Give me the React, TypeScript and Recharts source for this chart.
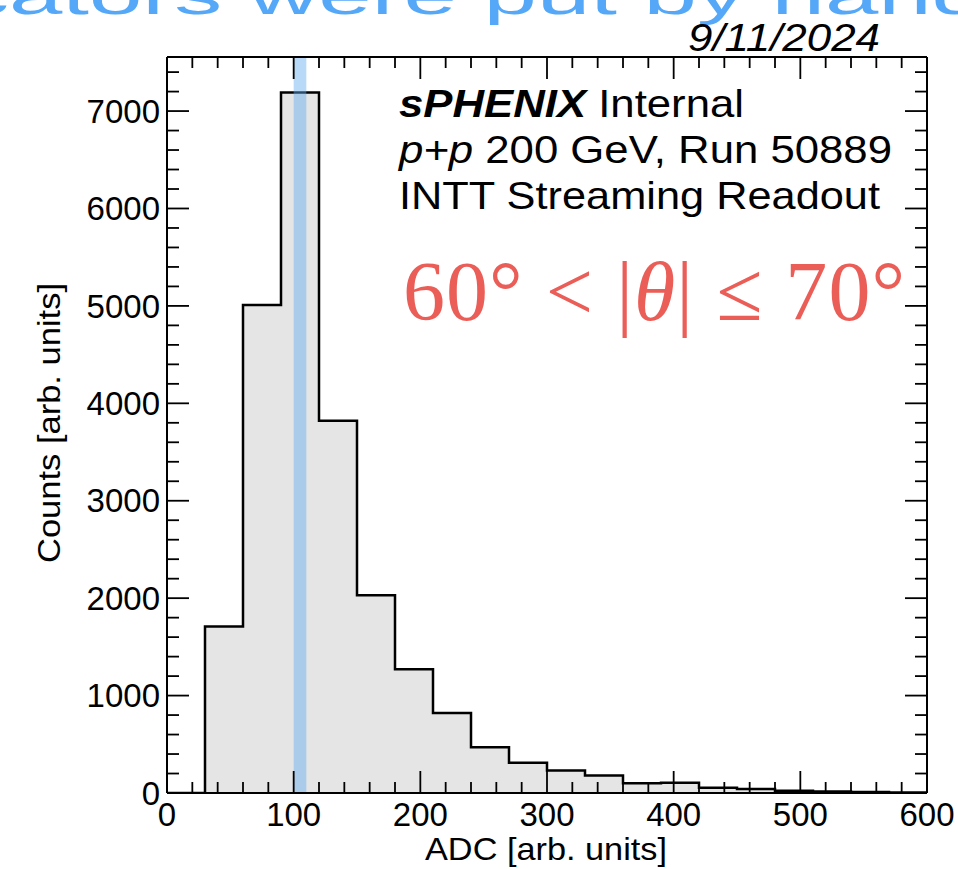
import React from "react";
import { Area, ComposedChart, Line, ReferenceArea, XAxis, YAxis } from "recharts";

// histogram: 30-ADC bins from 0 to 600
const binEdges = [0, 30, 60, 90, 120, 150, 180, 210, 240, 270, 300, 330, 360, 390, 420, 450, 480, 510, 540, 570, 600];
const binCounts = [0, 1710, 5010, 7190, 3820, 2030, 1270, 820, 470, 310, 230, 180, 100, 106, 55, 41, 24, 16, 9, 4];

const xTicks = [0, 20, 40, 60, 80, 100, 120, 140, 160, 180, 200, 220, 240, 260, 280, 300, 320, 340, 360, 380, 400, 420, 440, 460, 480, 500, 520, 540, 560, 580, 600];
const xLabels = [0, 100, 200, 300, 400, 500, 600];
const yTicks = [0, 200, 400, 600, 800, 1000, 1200, 1400, 1600, 1800, 2000, 2200, 2400, 2600, 2800, 3000, 3200, 3400, 3600, 3800, 4000, 4200, 4400, 4600, 4800, 5000, 5200, 5400, 5600, 5800, 6000, 6200, 6400, 6600, 6800, 7000, 7200, 7400];
const yLabels = [0, 1000, 2000, 3000, 4000, 5000, 6000, 7000];

const xDomain = [0, 600];
const yDomain = [0, 7555];
const band = [100, 110]; // hand-placed marker

const data = binEdges.map((edge, i) => ({ edge, count: binCounts[Math.min(i, binCounts.length - 1)] }));

const FONT = "'Liberation Sans', Arial, Helvetica, sans-serif";
const SERIF = "'Liberation Serif', 'Times New Roman', serif";
const TICK_W = 1.8;
const BOTTOM_GAP = 10;
const LEFT_GAP = 7;
const EDGE_GAP = 4;

function BottomTick(props: any) {
  const { x, y, payload } = props;
  const axisY = y - BOTTOM_GAP;
  const major = xLabels.includes(payload.value);
  return (
    <g>
      <line x1={x} x2={x} y1={axisY} y2={axisY - (major ? 22 : 11)} stroke="#000" strokeWidth={TICK_W} />
      {major ? (
        <text x={x} y={y} dy="0.71em" textAnchor="middle" fontSize={33} fontFamily={FONT} fill="#000">
          {payload.value}
        </text>
      ) : null}
    </g>
  );
}

function TopTick(props: any) {
  const { x, y, payload } = props;
  const axisY = y + EDGE_GAP;
  const major = xLabels.includes(payload.value);
  return <line x1={x} x2={x} y1={axisY} y2={axisY + (major ? 22 : 11)} stroke="#000" strokeWidth={TICK_W} />;
}

function LeftTick(props: any) {
  const { x, y, payload } = props;
  const axisX = x + LEFT_GAP;
  const major = yLabels.includes(payload.value);
  return (
    <g>
      <line x1={axisX} x2={axisX + (major ? 22 : 12)} y1={y} y2={y} stroke="#000" strokeWidth={TICK_W} />
      {major ? (
        <text x={x} y={y} dy="0.355em" textAnchor="end" fontSize={33} fontFamily={FONT} fill="#000">
          {payload.value}
        </text>
      ) : null}
    </g>
  );
}

function RightTick(props: any) {
  const { x, y, payload } = props;
  const axisX = x - EDGE_GAP;
  const major = yLabels.includes(payload.value);
  return <line x1={axisX} x2={axisX - (major ? 22 : 12)} y1={y} y2={y} stroke="#000" strokeWidth={TICK_W} />;
}

export default function App() {
  return (
    <div style={{ position: "absolute", left: 0, top: 0, width: 958, height: 869, background: "#fff", overflow: "hidden" }}>
      <ComposedChart width={958} height={869} data={data} margin={{ top: 47, right: 11, bottom: 36, left: 67 }}>
        <XAxis
          xAxisId="x"
          dataKey="edge"
          type="number"
          domain={xDomain}
          ticks={xTicks}
          interval={0}
          allowDataOverflow
          height={40}
          tickSize={0}
          tickMargin={BOTTOM_GAP}
          tick={<BottomTick />}
          axisLine={{ stroke: "#000", strokeWidth: 2 }}
        />
        <XAxis
          xAxisId="xt"
          orientation="top"
          dataKey="edge"
          type="number"
          domain={xDomain}
          ticks={xTicks}
          interval={0}
          allowDataOverflow
          height={10}
          tickSize={0}
          tickMargin={EDGE_GAP}
          tick={<TopTick />}
          axisLine={{ stroke: "#000", strokeWidth: 2 }}
        />
        <YAxis
          yAxisId="y"
          type="number"
          domain={yDomain}
          ticks={yTicks}
          interval={0}
          allowDataOverflow
          width={100}
          tickSize={0}
          tickMargin={LEFT_GAP}
          tick={<LeftTick />}
          axisLine={{ stroke: "#000", strokeWidth: 2 }}
        />
        <YAxis
          yAxisId="yr"
          orientation="right"
          type="number"
          domain={yDomain}
          ticks={yTicks}
          interval={0}
          allowDataOverflow
          width={20}
          tickSize={0}
          tickMargin={EDGE_GAP}
          tick={<RightTick />}
          axisLine={{ stroke: "#000", strokeWidth: 2 }}
        />
        <Area
          xAxisId="x"
          yAxisId="y"
          type="stepAfter"
          dataKey="count"
          stroke="#000"
          strokeWidth={2.5}
          fill="#e5e5e5"
          fillOpacity={1}
          dot={false}
          activeDot={false}
          isAnimationActive={false}
        />
        <Line
          xAxisId="xt"
          yAxisId="yr"
          dataKey="count"
          stroke="none"
          dot={false}
          activeDot={false}
          isAnimationActive={false}
        />
        <ReferenceArea
          xAxisId="x"
          yAxisId="y"
          x1={band[0]}
          x2={band[1]}
          fill="rgb(100,170,240)"
          fillOpacity={0.45}
          stroke="none"
          ifOverflow="extendDomain"
        />
      </ComposedChart>

      <svg width={958} height={869} style={{ position: "absolute", left: 0, top: 0, pointerEvents: "none" }}>
        <text x={-39} y={14} fontSize={54} fontFamily={FONT} fill="#55a8f8" textLength={1024} lengthAdjust="spacingAndGlyphs">
          cators were put by hand
        </text>
        <text x={688} y={51} fontSize={39} fontStyle="italic" fontFamily={FONT} fill="#000" textLength={192} lengthAdjust="spacingAndGlyphs">
          9/11/2024
        </text>
        <text x={399} y={117} fontSize={39} fontFamily={FONT} fill="#000" textLength={345} lengthAdjust="spacingAndGlyphs">
          <tspan fontWeight="bold" fontStyle="italic">sPHENIX</tspan> Internal
        </text>
        <text x={399} y={163} fontSize={39} fontFamily={FONT} fill="#000" textLength={493} lengthAdjust="spacingAndGlyphs">
          <tspan fontStyle="italic">p+p</tspan> 200 GeV, Run 50889
        </text>
        <text x={399} y={209} fontSize={39} fontFamily={FONT} fill="#000" textLength={481} lengthAdjust="spacingAndGlyphs">
          INTT Streaming Readout
        </text>
        <text x={403} y={320} fontSize={84} fontFamily={SERIF} fill="#eb5e58" textLength={502} lengthAdjust="spacing">
          60° &lt; |<tspan fontStyle="italic">θ</tspan>| ≤ 70°
        </text>
        <text x={546} y={860} fontSize={32} fontFamily={FONT} fill="#000" textAnchor="middle" textLength={242} lengthAdjust="spacingAndGlyphs">
          ADC [arb. units]
        </text>
        <text
          x={0}
          y={0}
          transform="translate(60,423) rotate(-90)"
          fontSize={32}
          fontFamily={FONT}
          fill="#000"
          textAnchor="middle"
          textLength={280}
          lengthAdjust="spacingAndGlyphs"
        >
          Counts [arb. units]
        </text>
      </svg>
    </div>
  );
}
